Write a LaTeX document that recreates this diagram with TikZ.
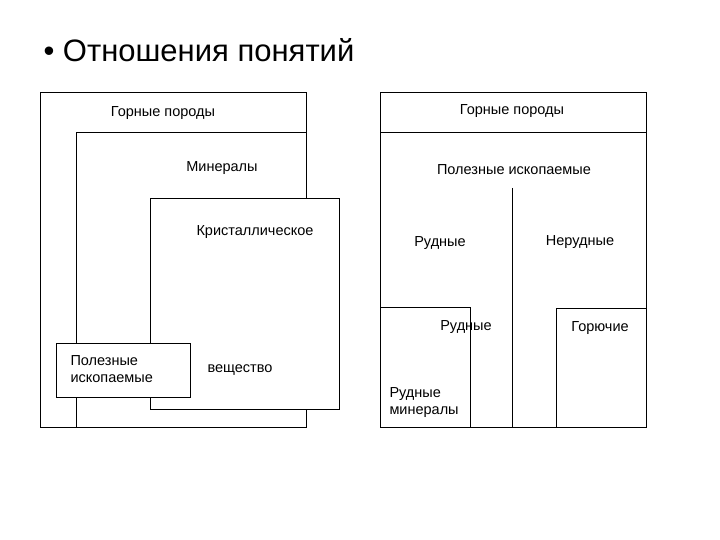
\documentclass[tikz,border=0pt]{standalone}
\usepackage{fontspec}
\setmainfont{Liberation Sans}
\begin{document}
\begin{tikzpicture}[x=1pt,y=-1pt,line width=1pt,
  lbl/.style={font=\fontsize{14.5}{17}\selectfont,inner sep=0pt}]
\useasboundingbox[fill=white] (0,0) rectangle (720,540);
\node[anchor=west,inner sep=0pt,font=\fontsize{31}{36}\selectfont] (title) at (43,50) {• Отношения понятий};
% left
\draw (40,93) rectangle (306,427);
\draw (76,427) -- (76,133) -- (306,133);
\draw[fill=white] (150,199) rectangle (339,409);
\draw[fill=white] (56,343) rectangle (190,397);
\node[lbl] (l1) at (163,113) {Горные породы};
\node[lbl] (l2) at (222,168) {Минералы};
\node[lbl] (l3) at (255,232) {Кристаллическое};
\node[lbl] (l4) at (240,370) {вещество};
\node[lbl,align=left,anchor=west] (l5) at (70,369) {Полезные\\ископаемые};
% right
\draw (380,93) rectangle (646,427);
\draw (380,133) -- (646,133);
\draw (512,188) -- (512,427);
\draw (380,307) -- (470,307) -- (470,427);
\draw (556,427) -- (556,308) -- (646,308);
\node[lbl] (r1) at (512,111) {Горные породы};
\node[lbl] (r2) at (514,170) {Полезные ископаемые};
\node[lbl] (r3) at (440,243) {Рудные};
\node[lbl] (r4) at (580,242) {Нерудные};
\node[lbl] (r5) at (466,327) {Рудные};
\node[lbl] (r6) at (600,328) {Горючие};
\node[lbl,align=left,anchor=west] (r7) at (389,403) {Рудные\\минералы};
\end{tikzpicture}
\end{document}
